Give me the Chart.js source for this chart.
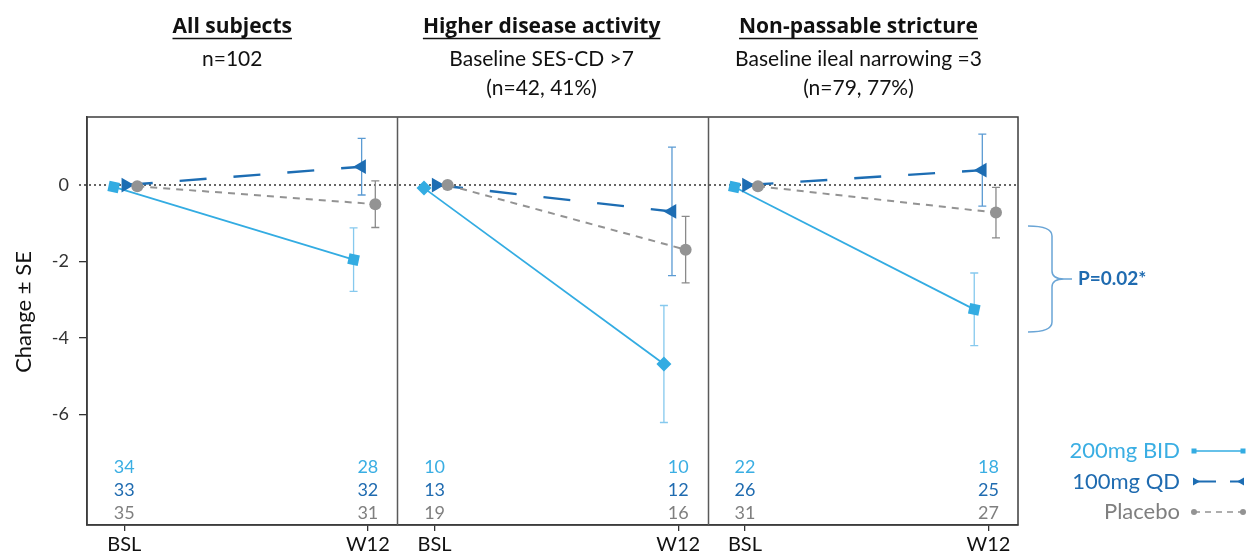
<!DOCTYPE html>
<html>
<head>
<meta charset="utf-8">
<script src="https://cdn.jsdelivr.net/npm/chart.js@4.4.0/dist/chart.umd.min.js"></script>
<style>
html, body { margin: 0; padding: 0; background: #fff; }
</style>
</head>
<body>
<canvas id="c" width="1248" height="559"></canvas>
<script>
// panels and labels
var panelTitles = ['All subjects', 'Higher disease activity', 'Non-passable stricture'];
var panelSubs = [['n=102'], ['Baseline SES-CD >7', '(n=42, 41%)'], ['Baseline ileal narrowing =3', '(n=79, 77%)']];
var timepoints = ['BSL', 'W12'];
var yTicks = [0, -2, -4, -6];

// mean change, per panel: [BSL, W12]
var bidMean = [[-0.05, -1.95], [-0.08, -4.68], [-0.05, -3.25]];
var bidSE = [[null, 0.83], [null, 1.53], [null, 0.95]];
var qdMean = [[0, 0.48], [0, -0.69], [0, 0.39]];
var qdSE = [[null, 0.74], [null, 1.68], [null, 0.94]];
var pboMean = [[-0.03, -0.5], [0, -1.69], [-0.03, -0.72]];
var pboSE = [[null, 0.61], [null, 0.87], [null, 0.66]];

// subjects per timepoint
var bidN = [[34, 28], [10, 10], [22, 18]];
var qdN = [[33, 32], [13, 12], [26, 25]];
var pboN = [[35, 31], [19, 16], [31, 27]];

var pText = 'P=0.02*';

var FONT = 'Lato, "Open Sans", sans-serif';
var tickPos = [0.12, 0.905];

var series = [
    {name: '200mg BID', mean: bidMean, se: bidSE, n: bidN, color: '#33ace2', err: '#86c9ee', text: '#3aaee3',
     dash: [], width: 1.8, style: 'rect', radius: 7.5, xs: [0.086, 0.859]},
    {name: '100mg QD', mean: qdMean, se: qdSE, n: qdN, color: '#1d6db3', err: '#5b9bd3', text: '#1f6bb0',
     dash: [27, 27], width: 2.4, style: 'triangle', radius: 8.5, xs: [0.125, 0.885]},
    {name: 'Placebo', mean: pboMean, se: pboSE, n: pboN, color: '#939393', err: '#8a8a8a', text: '#7f7f7f',
     dash: [7, 6], width: 2, style: 'circle', radius: 6, xs: [0.162, 0.929]}
];

var datasets = [];
series.forEach(function (s, si) {
    for (var p = 0; p < 3; p++) {
        datasets.push({
            label: s.name,
            data: s.mean[p].map(function (v, t) { return {x: p + s.xs[t], y: v}; }),
            errs: s.se[p],
            errColor: s.err,
            borderColor: s.color,
            backgroundColor: s.color,
            borderWidth: s.width,
            borderDash: s.dash,
            pointStyle: s.style,
            pointRadius: s.radius,
            pointBorderWidth: 0,
            pointRotation: function (ctx) {
                var st = ctx.dataset.pointStyle;
                if (st === 'triangle') return ctx.dataIndex === 0 ? 90 : -90;
                if (st === 'rect') return ctx.datasetIndex === 1 ? 45 : 12;
                return 0;
            },
            order: 3 - si
        });
    }
});

function drawBrace(ctx, x, top, bot) {
    var mid = (top + bot) / 2;
    var w = 24;
    ctx.beginPath();
    ctx.moveTo(x, top);
    ctx.quadraticCurveTo(x + w, top, x + w, top + 10);
    ctx.lineTo(x + w, mid - 8);
    ctx.quadraticCurveTo(x + w, mid, x + w + 12, mid);
    ctx.lineTo(x + w + 20, mid);
    ctx.moveTo(x + w + 12, mid);
    ctx.quadraticCurveTo(x + w, mid, x + w, mid + 8);
    ctx.lineTo(x + w, bot - 10);
    ctx.quadraticCurveTo(x + w, bot, x, bot);
    ctx.stroke();
}

var decor = {
    id: 'decor',
    beforeDatasetsDraw: function (chart) {
        var ctx = chart.ctx, a = chart.chartArea, y = chart.scales.y, x = chart.scales.x;
        ctx.save();
        // dotted zero line
        ctx.strokeStyle = '#333';
        ctx.lineWidth = 1.5;
        ctx.setLineDash([2, 3]);
        ctx.beginPath();
        ctx.moveTo(a.left - 8, y.getPixelForValue(0));
        ctx.lineTo(a.right, y.getPixelForValue(0));
        ctx.stroke();
        ctx.setLineDash([]);
        // error bars
        chart.data.datasets.forEach(function (ds) {
            ds.data.forEach(function (pt, i) {
                var e = ds.errs[i];
                if (e == null) return;
                var px = x.getPixelForValue(pt.x);
                var y1 = y.getPixelForValue(pt.y + e), y2 = y.getPixelForValue(pt.y - e);
                ctx.strokeStyle = ds.errColor;
                ctx.lineWidth = 1.3;
                ctx.beginPath();
                ctx.moveTo(px, y1); ctx.lineTo(px, y2);
                ctx.moveTo(px - 4, y1); ctx.lineTo(px + 4, y1);
                ctx.moveTo(px - 4, y2); ctx.lineTo(px + 4, y2);
                ctx.stroke();
            });
        });
        ctx.restore();
    },
    afterDraw: function (chart) {
        var ctx = chart.ctx, a = chart.chartArea, y = chart.scales.y, x = chart.scales.x;
        ctx.save();
        // frame and panel dividers
        ctx.strokeStyle = '#3c3c3c';
        ctx.lineWidth = 1.5;
        ctx.strokeRect(a.left, a.top, a.right - a.left, a.bottom - a.top);
        ctx.strokeStyle = '#5a5a5a';
        [1, 2].forEach(function (v) {
            var px = Math.round(x.getPixelForValue(v)) + 0.5;
            ctx.beginPath(); ctx.moveTo(px, a.top); ctx.lineTo(px, a.bottom); ctx.stroke();
        });

        // panel titles
        var titleX = [0.468, 0.465, 0.486];
        ctx.textAlign = 'center';
        ctx.textBaseline = 'middle';
        ctx.fillStyle = '#111';
        panelTitles.forEach(function (t, p) {
            var cx = x.getPixelForValue(p + titleX[p]);
            ctx.font = 'bold 21px "Open Sans", Lato, sans-serif';
            ctx.fillText(t, cx, 27);
            var w = ctx.measureText(t).width;
            ctx.lineWidth = 1.6;
            ctx.strokeStyle = '#111';
            ctx.beginPath(); ctx.moveTo(cx - w / 2, 38.5); ctx.lineTo(cx + w / 2, 38.5); ctx.stroke();
            ctx.font = '21px ' + FONT;
            panelSubs[p].forEach(function (s, k) { ctx.fillText(s, cx, 59 + k * 29); });
        });

        // subject counts
        ctx.font = '18px ' + FONT;
        series.forEach(function (s, si) {
            ctx.fillStyle = s.text;
            for (var p = 0; p < 3; p++) {
                for (var t = 0; t < 2; t++) {
                    ctx.fillText(String(s.n[p][t]), x.getPixelForValue(p + tickPos[t]), a.bottom - 58 + si * 23);
                }
            }
        });

        // y axis title
        ctx.save();
        ctx.translate(24, 312);
        ctx.rotate(-Math.PI / 2);
        ctx.fillStyle = '#111';
        ctx.font = '22px ' + FONT;
        ctx.fillText('Change \u00b1 SE', 0, 0);
        ctx.restore();

        // brace and p value
        var bTop = y.getPixelForValue(-1.07), bBot = y.getPixelForValue(-3.84);
        ctx.strokeStyle = '#6aa5d6';
        ctx.lineWidth = 1.5;
        drawBrace(ctx, a.right + 10, bTop, bBot);
        ctx.fillStyle = '#1f6bb0';
        ctx.font = 'bold 19px ' + FONT;
        ctx.textAlign = 'left';
        ctx.fillText(pText, a.right + 60, (bTop + bBot) / 2);

        // legend
        var lx0 = 1194, lx1 = 1243;
        series.forEach(function (s, si) {
            var ly = 451 + si * 30.5;
            ctx.font = '22px ' + FONT;
            ctx.textAlign = 'right';
            ctx.fillStyle = s.text;
            ctx.fillText(s.name, 1180, ly);
            ctx.strokeStyle = s.color;
            ctx.fillStyle = s.color;
            ctx.lineWidth = si === 1 ? 2 : 1.4;
            ctx.setLineDash(si === 0 ? [] : (si === 1 ? [22, 14] : [6, 5]));
            ctx.beginPath(); ctx.moveTo(lx0, ly); ctx.lineTo(lx1, ly); ctx.stroke();
            ctx.setLineDash([]);
            if (si === 0) {
                ctx.fillRect(lx0 - 2.5, ly - 2.5, 5, 5);
                ctx.fillRect(lx1 - 2.5, ly - 2.5, 5, 5);
            } else if (si === 1) {
                ctx.beginPath(); ctx.moveTo(lx0 - 1, ly - 4); ctx.lineTo(lx0 + 6, ly); ctx.lineTo(lx0 - 1, ly + 4); ctx.fill();
                ctx.beginPath(); ctx.moveTo(lx1 + 1, ly - 4); ctx.lineTo(lx1 - 6, ly); ctx.lineTo(lx1 + 1, ly + 4); ctx.fill();
            } else {
                ctx.beginPath(); ctx.arc(lx0, ly, 3, 0, Math.PI * 2); ctx.fill();
                ctx.beginPath(); ctx.arc(lx1, ly, 3, 0, Math.PI * 2); ctx.fill();
            }
        });
        ctx.restore();
    }
};

new Chart(document.getElementById('c').getContext('2d'), {
    type: 'line',
    data: {datasets: datasets},
    options: {
        responsive: false,
        animation: false,
        layout: {padding: {top: 117, right: 230, left: 0, bottom: 0}},
        plugins: {legend: {display: false}, tooltip: {enabled: false}},
        scales: {
            x: {
                type: 'linear', min: 0, max: 3,
                afterBuildTicks: function (scale) {
                    var ticks = [];
                    for (var p = 0; p < 3; p++) tickPos.forEach(function (t) { ticks.push({value: p + t}); });
                    scale.ticks = ticks;
                },
                afterFit: function (scale) { scale.height = 34; },
                ticks: {
                    autoSkip: false, maxRotation: 0, padding: 2, color: '#111',
                    font: {family: FONT, size: 20},
                    callback: function (v, i) { return timepoints[i % 2]; }
                },
                grid: {drawOnChartArea: false, tickLength: 6, color: '#333', lineWidth: 1.3},
                border: {display: true, color: '#3c3c3c', width: 1.5}
            },
            y: {
                min: -8.89, max: 1.78,
                afterBuildTicks: function (scale) {
                    scale.ticks = yTicks.map(function (v) { return {value: v}; });
                },
                afterFit: function (scale) { scale.width = 87; },
                ticks: {color: '#333', padding: 10, font: {family: FONT, size: 18}},
                grid: {
                    drawOnChartArea: false, tickLength: 8, lineWidth: 1.3,
                    color: function (ctx) { return ctx.tick && ctx.tick.value === 0 ? 'rgba(0,0,0,0)' : '#333'; }
                },
                border: {display: true, color: '#3c3c3c', width: 1.5}
            }
        }
    },
    plugins: [decor]
});
</script>
</body>
</html>
